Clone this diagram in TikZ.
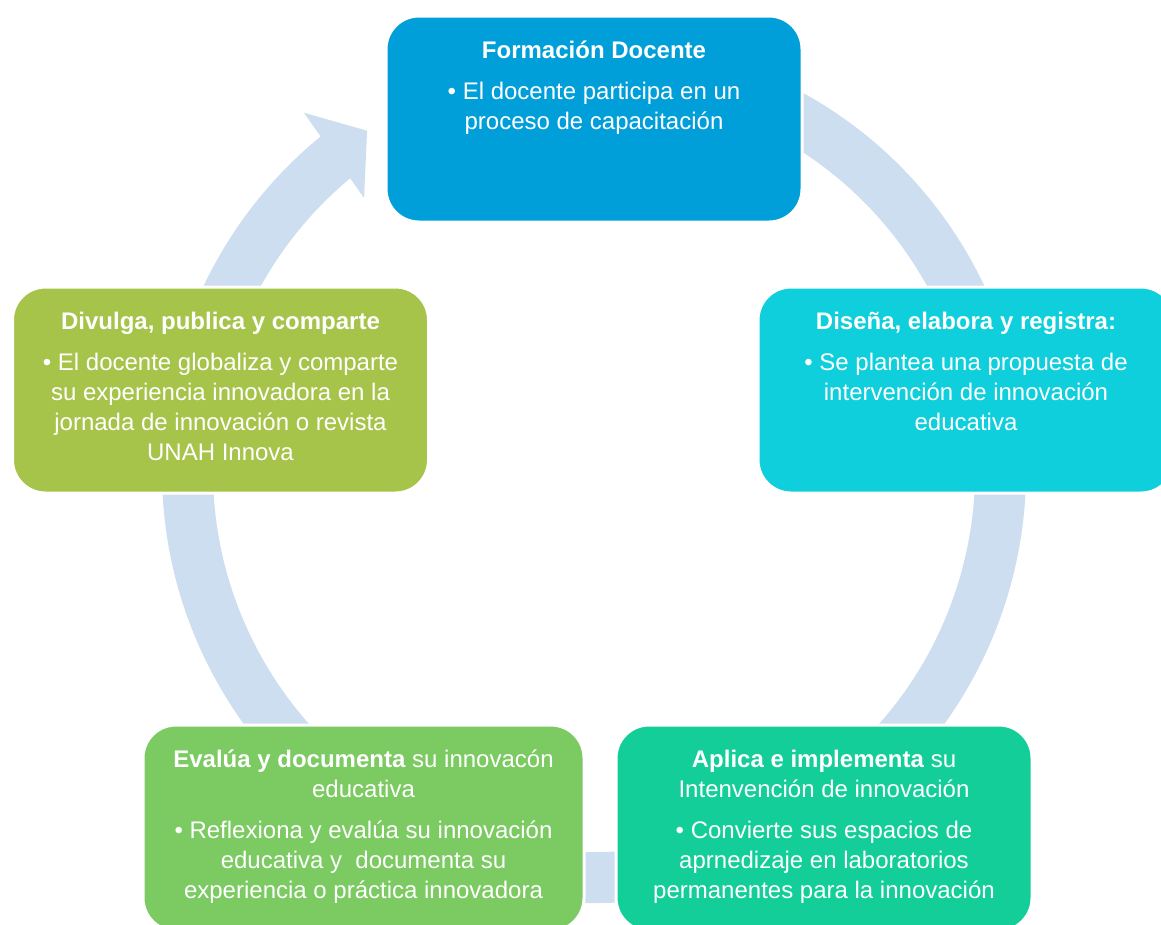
\documentclass[tikz,border=0pt]{standalone}
\usepackage{fontspec}
\setmainfont{Liberation Sans}
\usetikzlibrary{positioning}

\definecolor{ringblue}{RGB}{204,222,239}
\definecolor{formblue}{RGB}{0,159,218}
\definecolor{disecyan}{RGB}{14,207,219}
\definecolor{divuolive}{RGB}{166,195,74}
\definecolor{evalgreen}{RGB}{124,202,98}
\definecolor{aplicateal}{RGB}{19,206,152}

\begin{document}
\begin{tikzpicture}[x=1pt,y=1pt,
    box/.style={rounded corners=33pt, draw=white, line width=3pt,
        minimum width=416pt, minimum height=206pt, inner sep=0pt, outer sep=0pt},
    boxtext/.style={text=white, align=center, inner sep=0pt, outer sep=0pt,
        font=\fontsize{24}{30}\selectfont}]

    \useasboundingbox (0,0) rectangle (1161,-924);

    \begin{scope}
    % cycle ring and its head
    \coordinate (hub) at (594,-471);
    \draw [ringblue, line width=51pt] ([shift={(118:406.5)}]hub) arc[start angle=118, end angle=-231, radius=406.5];
    \fill [ringblue] ([shift={(129:461)}]hub) -- ([shift={(123.7:409)}]hub) -- ([shift={(130.1:357)}]hub) -- cycle;
    \end{scope}

    \node (formbox) [box, fill=formblue] at (594,-119) {};
    \node (disebox) [box, fill=disecyan] at (966,-390) {};
    \node (divubox) [box, fill=divuolive] at (220.5,-390) {};
    \node (evalbox) [box, fill=evalgreen, minimum width=441pt] at (363.5,-828) {};
    \node (aplicabox) [box, fill=aplicateal] at (824,-828) {};

    \node (formtext) [boxtext, below=21pt of formbox.north]
        {\strut\textbf{Formación Docente}\\[11pt]
         •\ El docente participa en un\\
         proceso de capacitación};
    \node (disetext) [boxtext, below=21pt of disebox.north]
        {\strut\textbf{Diseña, elabora y registra:}\\[11pt]
         •\ Se plantea una propuesta de\\
         intervención de innovación\\
         educativa};
    \node (divutext) [boxtext, below=21pt of divubox.north]
        {\strut\textbf{Divulga, publica y comparte}\\[11pt]
         •\ El docente globaliza y comparte\\
         su experiencia innovadora en la\\
         jornada de innovación o revista\\
         UNAH Innova};
    \node (evaltext) [boxtext, below=21pt of evalbox.north]
        {\strut\textbf{Evalúa y documenta} su innovacón\\
         educativa\\[11pt]
         •\ Reflexiona y evalúa su innovación\\
         educativa y~ documenta su\\
         experiencia o práctica innovadora};
    \node (aplicatext) [boxtext, below=21pt of aplicabox.north]
        {\strut\textbf{Aplica e implementa} su\\
         Intenvención de innovación\\[11pt]
         •\ Convierte sus espacios de\\
         aprnedizaje en laboratorios\\
         permanentes para la innovación};
\end{tikzpicture}
\end{document}
